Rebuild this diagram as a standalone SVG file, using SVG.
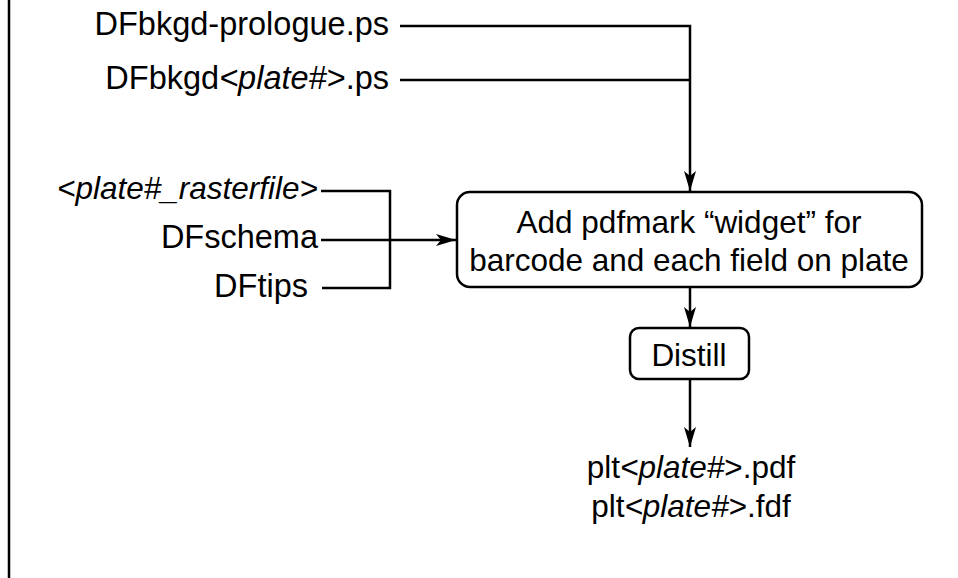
<svg xmlns="http://www.w3.org/2000/svg" width="958" height="578" viewBox="0 0 958 578">
  <style>
    text { font-family: "Liberation Sans", Arial, sans-serif; font-size: 31.5px; fill: #000; }
    .big { font-size: 32.5px; }
    .it { font-style: italic; }
    .wire { fill: none; stroke: #000; stroke-width: 2.5; }
    .box { fill: #fff; stroke: #000; stroke-width: 2.5; }
  </style>
  <defs>
    <marker id="arrow" viewBox="0 0 20 12" refX="20" refY="6" markerWidth="20" markerHeight="12" markerUnits="userSpaceOnUse" orient="auto">
      <path d="M0,0 L20,6 L0,12 L5,6 Z" fill="#000"/>
    </marker>
  </defs>

  <!-- page margin rule -->
  <line x1="9" y1="0" x2="9" y2="578" stroke="#000" stroke-width="2.5"/>

  <g id="connectors">
    <path class="wire" d="M400,26 H690 V191" marker-end="url(#arrow)"/>
    <path class="wire" d="M400,80 H690"/>
    <path class="wire" d="M321,191 H390 V288 H322"/>
    <path class="wire" d="M321,240 H456" marker-end="url(#arrow)"/>
    <path class="wire" d="M690,287 V327" marker-end="url(#arrow)"/>
    <path class="wire" d="M690,379 V447" marker-end="url(#arrow)"/>
  </g>

  <g id="prologue">
    <text class="big" x="389" y="35" text-anchor="end">DFbkgd-prologue.ps</text>
  </g>
  <g id="bkgd-plate">
    <text class="big" x="389" y="89" text-anchor="end">DFbkgd<tspan class="it">&lt;plate#</tspan>&gt;.ps</text>
  </g>
  <g id="rasterfile">
    <text x="318" y="199" text-anchor="end" class="it">&lt;plate#_rasterfile&gt;</text>
  </g>
  <g id="schema">
    <text class="big" x="318" y="248" text-anchor="end">DFschema</text>
  </g>
  <g id="tips">
    <text class="big" x="308" y="297" text-anchor="end">DFtips</text>
  </g>

  <g id="pdfmark">
    <rect class="box" x="457" y="192" width="465" height="95" rx="13"/>
    <text x="689" y="233" text-anchor="middle">Add pdfmark “widget” for</text>
    <text x="689" y="271" text-anchor="middle">barcode and each field on plate</text>
  </g>

  <g id="distill">
    <rect class="box" x="630" y="328" width="119" height="51" rx="9"/>
    <text x="689" y="366" text-anchor="middle">Distill</text>
  </g>

  <g id="outputs">
    <text x="691" y="478" text-anchor="middle">plt<tspan class="it">&lt;plate#</tspan>&gt;.pdf</text>
    <text x="691" y="517" text-anchor="middle">plt<tspan class="it">&lt;plate#</tspan>&gt;.fdf</text>
  </g>
</svg>
